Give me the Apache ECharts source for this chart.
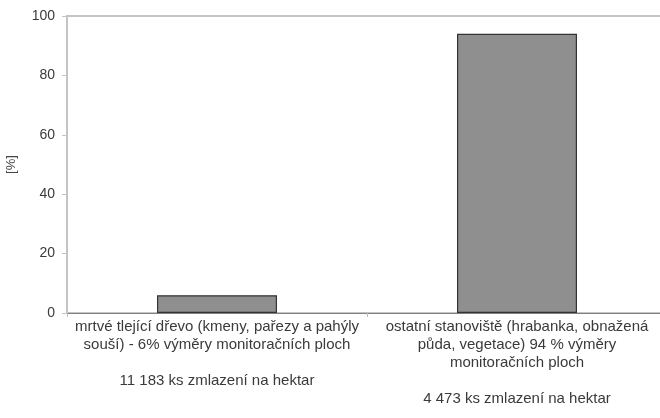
<!DOCTYPE html>
<html><head><meta charset="utf-8">
<script src="https://cdn.jsdelivr.net/npm/echarts@6/dist/echarts.min.js"></script>
<style>html,body{margin:0;padding:0;background:#fff}#c{width:660px;height:418px}</style>
</head><body><div id="c"></div>
<script>
var categories = [
  "mrtvé tlející dřevo (kmeny, pařezy a pahýly\nsouší) - 6% výměry monitoračních ploch\n\n11 183 ks zmlazení na hektar",
  "ostatní stanoviště (hrabanka, obnažená\npůda, vegetace) 94 % výměry\nmonitoračních ploch\n\n4 473 ks zmlazení na hektar"
];
var values = [6, 94];
var yTicks = [0, 20, 40, 60, 80, 100];

var chart = echarts.init(document.getElementById('c'));
chart.setOption({
  animation: false,
  grid: {left: 67, top: 16, width: 600, height: 297, outerBoundsMode: 'none', containLabel: false,
         show: true, borderColor: '#c4c4c4', borderWidth: 2, backgroundColor: '#fff'},
  xAxis: {
    type: 'category', data: categories,
    axisLine: {lineStyle: {color: '#808080', width: 1}},
    axisTick: {show: true, length: 4, lineStyle: {color: '#bbb'}},
    axisLabel: {fontFamily: 'Liberation Sans', fontSize: 15, color: '#3a3a3a', lineHeight: 18, margin: 5, interval: 0}
  },
  yAxis: {
    type: 'value', min: yTicks[0], max: yTicks[yTicks.length-1], interval: 20,
    name: '[%]', nameLocation: 'middle', nameGap: 49, nameRotate: 90,
    nameTextStyle: {fontFamily: 'Liberation Sans', fontSize: 13, color: '#444'},
    axisLine: {show: true, lineStyle: {color: '#c4c4c4', width: 2}},
    axisTick: {show: true, length: 5, lineStyle: {color: '#c4c4c4'}},
    splitLine: {show: false},
    axisLabel: {fontFamily: 'Liberation Sans', fontSize: 14, color: '#3a3a3a', margin: 12}
  },
  series: [{
    type: 'bar', data: values, barWidth: '40%',
    itemStyle: {color: '#8f8f8f', borderColor: '#333', borderWidth: 1.2}
  }]
});
</script>
</body></html>
